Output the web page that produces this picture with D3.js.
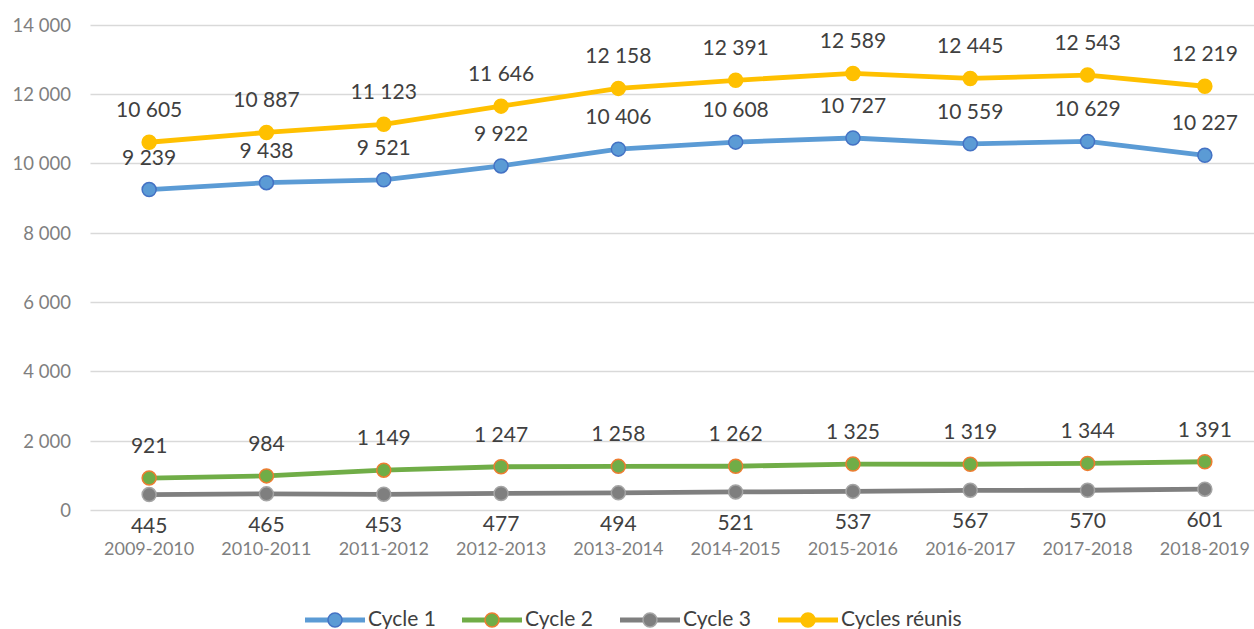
<!DOCTYPE html>
<html><head><meta charset="utf-8">
<script src="https://cdn.jsdelivr.net/npm/d3@7"></script>
<style>body{margin:0;background:#fff;} svg{display:block;font-family:Lato,"Open Sans",sans-serif;}</style>
</head><body>
<svg id="c" width="1254" height="629"></svg>
<script>
const categories = ["2009-2010","2010-2011","2011-2012","2012-2013","2013-2014","2014-2015","2015-2016","2016-2017","2017-2018","2018-2019"];
const cycle1 = [9239,9438,9521,9922,10406,10608,10727,10559,10629,10227];
const cycle2 = [921,984,1149,1247,1258,1262,1325,1319,1344,1391];
const cycle3 = [445,465,453,477,494,521,537,567,570,601];
const cyclesReunis = [10605,10887,11123,11646,12158,12391,12589,12445,12543,12219];
const yTicks = [0,2000,4000,6000,8000,10000,12000,14000];

const series = [
  {name:"Cycle 1", values:cycle1, line:"#5B9BD5", fill:"#5B9BD5", stroke:"#4472C4", labelPos:"above"},
  {name:"Cycle 2", values:cycle2, line:"#70AD47", fill:"#70AD47", stroke:"#ED7D31", labelPos:"above"},
  {name:"Cycle 3", values:cycle3, line:"#7F7F7F", fill:"#7F7F7F", stroke:"#A5A5A5", labelPos:"below"},
  {name:"Cycles réunis", values:cyclesReunis, line:"#FFC000", fill:"#FFC000", stroke:"#FFC000", labelPos:"above"}
];
const fmt = v => d3.format(",")(v).replace(/,/g," ");

const svg = d3.select("#c");
const x = d3.scaleBand().domain(categories).range([90.5,1263.5]);
const y = d3.scaleLinear().domain([0,14000]).range([510,24.5]);
const cx = c => x(c)+x.bandwidth()/2;

// gridlines
svg.append("g").selectAll("line").data(yTicks).join("line")
  .attr("x1",90.5).attr("x2",1263.5)
  .attr("y1",d=>Math.round(y(d))+0.5).attr("y2",d=>Math.round(y(d))+0.5)
  .attr("stroke","#d9d9d9").attr("stroke-width",1.5);

// y axis
const ya = svg.append("g").attr("transform","translate(71,0)")
  .call(d3.axisLeft(y).tickValues(yTicks).tickSize(0).tickPadding(0).tickFormat(fmt));
ya.select(".domain").remove();
ya.selectAll("text").attr("fill","#7f7f7f").attr("font-size","18.5px").attr("font-family","Lato,sans-serif").attr("dy","0.36em");

// x axis
const xa = svg.append("g").attr("transform","translate(0,0)")
  .call(d3.axisBottom(x).tickSize(0).tickPadding(0));
xa.select(".domain").remove();
xa.selectAll("text").attr("fill","#7f7f7f").attr("font-size","18px").attr("font-family","Lato,sans-serif")
  .attr("dy",null).attr("y",555);

const line = d3.line().x((d,i)=>cx(categories[i])).y(d=>y(d));

series.forEach(s=>{
  const g = svg.append("g");
  g.append("path").datum(s.values).attr("d",line).attr("fill","none")
    .attr("stroke",s.line).attr("stroke-width",4.8).attr("stroke-linejoin","round");
  g.selectAll("circle").data(s.values).join("circle")
    .attr("cx",(d,i)=>cx(categories[i])).attr("cy",d=>y(d)).attr("r",7)
    .attr("fill",s.fill).attr("stroke",s.stroke).attr("stroke-width",1.5);
  g.selectAll("text").data(s.values).join("text")
    .attr("x",(d,i)=>cx(categories[i]))
    .attr("y",d=>y(d)+(s.labelPos==="above"?-25:38))
    .attr("text-anchor","middle").attr("fill","#404040").attr("font-size","21px")
    .text(fmt);
});

// legend
const legX = [305,462,620,778];
const lg = svg.append("g");
series.forEach((s,i)=>{
  const g = lg.append("g").attr("transform",`translate(${legX[i]},620)`);
  g.append("line").attr("x1",0).attr("x2",60).attr("stroke",s.line).attr("stroke-width",4.8);
  g.append("circle").attr("cx",30).attr("r",7).attr("fill",s.fill).attr("stroke",s.stroke).attr("stroke-width",1.5);
  g.append("text").attr("x",63).attr("y",6).attr("fill","#404040").attr("font-size","21px").text(s.name);
});
</script>
</body></html>
